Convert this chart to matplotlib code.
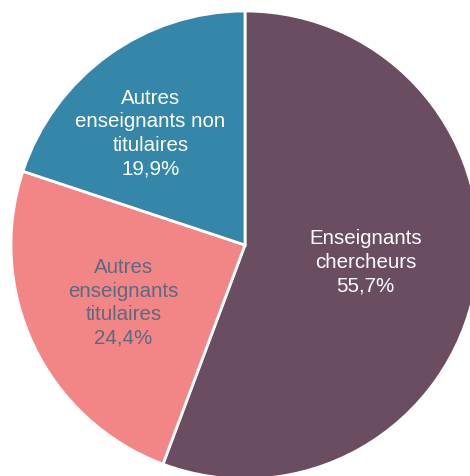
import numpy as np
import matplotlib.pyplot as plt

plt.rcParams['font.family'] = ['Liberation Sans', 'DejaVu Sans']

labels = ["Enseignants\nchercheurs", "Autres\nenseignants\ntitulaires", "Autres\nenseignants non\ntitulaires"]
values = [55.7, 24.4, 19.9]
colors = ["#6B4D62", "#F28686", "#3587A9"]
text_colors = ["white", "#5B6A80", "white"]
label_dist = [0.52, 0.575, 0.625]
label_shift = [2, 0, 4.5]  # degrees added to the mid angle

fig = plt.figure(figsize=(4.70, 4.76), dpi=100)
ax = fig.add_axes([0, 0, 1, 1])

cx, cy, r = 245, 476 - 245, 234
wedges, _ = ax.pie(values, colors=colors, startangle=90, counterclock=False,
                   center=(cx, cy), radius=r, frame=True,
                   wedgeprops=dict(edgecolor='white', linewidth=2))
ax.set_xlim(0, 470)
ax.set_ylim(0, 476)
ax.set_aspect('equal')
ax.axis('off')

for w, lab, v, tc, d, s in zip(wedges, labels, values, text_colors, label_dist, label_shift):
    ang = np.deg2rad((w.theta1 + w.theta2) / 2 + s)
    x = cx + d * r * np.cos(ang)
    y = cy + d * r * np.sin(ang)
    txt = lab + "\n" + f"{v:.1f}%".replace(".", ",")
    ax.text(x, y, txt, ha='center', va='center', color=tc, fontsize=14.8,
            linespacing=1.3)

fig.savefig("out.png", dpi=100)
